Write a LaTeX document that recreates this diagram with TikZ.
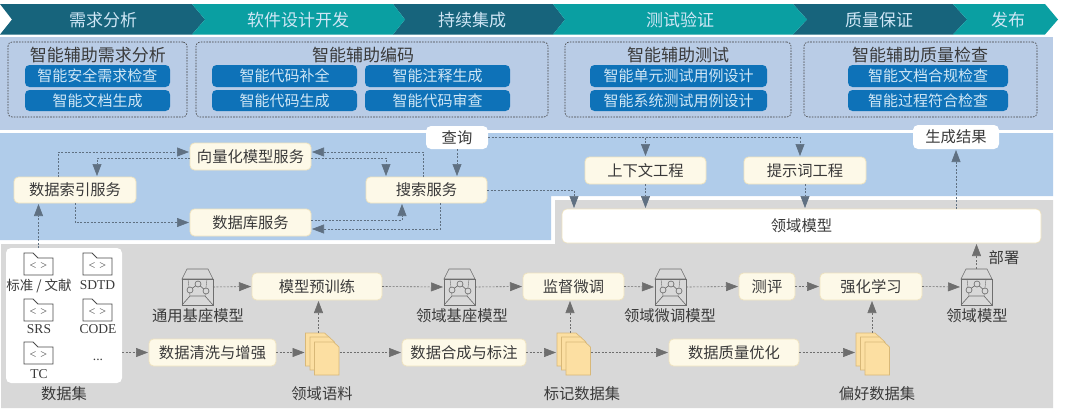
\documentclass[tikz,border=0pt]{standalone}
\usepackage{fontspec}
\setmainfont{Noto Sans CJK SC}
\newfontfamily\latinf{Liberation Serif}
\usetikzlibrary{arrows.meta,calc}
\definecolor{chevdark}{HTML}{17647C}
\definecolor{chevteal}{HTML}{0A9FA2}
\definecolor{panelone}{HTML}{B9CCE6}
\definecolor{paneltwo}{HTML}{B0CCEA}
\definecolor{panelgrey}{HTML}{D8D8D8}
\definecolor{pillblue}{HTML}{0E72B8}
\definecolor{pilltext}{HTML}{CFE6F5}
\definecolor{boxfill}{HTML}{FDF9E8}
\definecolor{boxedge}{HTML}{EFE3BF}
\definecolor{inktext}{HTML}{3A3A3A}
\definecolor{connblue}{HTML}{5F7082}
\definecolor{conngrey}{HTML}{6E6E6E}
\definecolor{sheetfill}{HTML}{FCDFA2}
\definecolor{sheetedge}{HTML}{D8B878}
\definecolor{iconline}{HTML}{6E6E6E}
\tikzset{
  x=1pt,y=-1pt,
  every node/.style={inner sep=0pt,outer sep=0pt,text=inktext},
  chevlabel/.style={font=\fontsize{17}{18}\selectfont,text=pilltext},
  grouplabel/.style={font=\fontsize{17}{18}\selectfont},
  groupbox/.style={draw=black!75,dash pattern=on 1.6pt off 1.2pt,line width=0.6pt,rounded corners=4pt},
  pill/.style={fill=pillblue,rounded corners=4.5pt,text=pilltext,font=\fontsize{15}{16}\selectfont},
  svcbox/.style={fill=boxfill,draw=boxedge,line width=0.8pt,rounded corners=4.5pt,font=\fontsize{15.3}{16}\selectfont},
  whitebox/.style={fill=white,rounded corners=5pt,font=\fontsize{15.3}{16}\selectfont},
  plainlabel/.style={font=\fontsize{15.3}{16}\selectfont},
  latinlabel/.style={font=\fontsize{13.5}{14}\latinf},
  iconbase/.style={draw=none,fill=none},
  connb/.style={draw=connblue,dash pattern=on 2pt off 1.5pt,line width=0.6pt,-{Triangle[length=12pt,width=9pt,fill=connblue]},shorten >=1pt},
  conng/.style={draw=conngrey,dash pattern=on 2pt off 1.5pt,line width=0.6pt,-{Triangle[length=12pt,width=9pt,fill=conngrey]},shorten >=1pt},
  iconstroke/.style={draw=iconline,line width=0.65pt},
  sheet/.style={fill=sheetfill,draw=sheetedge,line width=0.7pt},
  folderstroke/.style={draw=black!70,line width=0.85pt,fill=white},
}
% box from corners: name, x0, y0, x1, y1, style, text
\newcommand{\bx}[7]{\node[#6,minimum width={(#4-#2)*1pt},minimum height={(#5-#3)*1pt}] (#1) at ({(#2+#4)/2},{(#3+#5)/2}) {#7};}
\newcommand{\chev}[5]{\fill[#5] (#1,4) -- (#2,4) -- (#3,19.5) -- (#2,34.5) -- (#1,34.5) -- (#4,19.5) -- cycle;}
% cube icon: name, left x
\newcommand{\cubeicon}[2]{%
  \node[iconbase,minimum width=31pt,minimum height=37pt] (#1) at ({#2+15.5},287) {};
  \begin{scope}[shift={(#2,269)}]
    \draw[iconstroke] (0,10) -- (5,0) -- (26,0) -- (31,10) -- cycle;
    \draw[iconstroke] (0,10) rectangle (31,36);
    \draw[iconstroke] (0,36) -- (8,27) -- (23,27) -- (31,36);
    \draw[iconstroke,line width=0.4pt] (6,10) -- (8,27) (25,10) -- (23,27);
    \draw[iconstroke] (8,21) -- (16,15) -- (24,22);
    \draw[iconstroke,fill=panelgrey] (8,21) circle (3) (16,15) circle (3) (24,22) circle (3);
  \end{scope}}
% sheet stack: name, left x
\newcommand{\sheetstack}[2]{%
  \node[iconbase,minimum width=34pt,minimum height=40pt] (#1) at ({#2+17},352.5) {};
  \foreach \dx/\dy in {0/0,4.5/4,9/9}{
    \draw[sheet,shift={({#2+\dx},{333+\dy})}] (0,0) -- (19,0) -- (24.5,5) -- (24.5,33) -- (0,33) -- cycle;
  }}
% folder: name, left x, top y
\newcommand{\foldericon}[3]{%
  \node[iconbase,minimum width=29pt,minimum height=22pt] (#1) at ({#2+14.5},{#3+11}) {};
  \draw[folderstroke,shift={(#2,#3)}] (0,0) -- (9,0) -- (14,5) -- (29,5) -- (29,22) -- (0,22) -- cycle;
  \node[font=\fontsize{12}{12}\latinf,text=black!70] (#1t) at ({#2+14.5},{#3+13.5}) {<\,\,>};}
\begin{document}
\begin{tikzpicture}
\useasboundingbox (0,0) rectangle (1080,413);
\fill[white] (0,0) rectangle (1080,413);
% panels
\fill[panelone] (0,37) rectangle (1053,129.5);
\fill[paneltwo] (0,133) -- (1053,133) -- (1053,196) -- (551,196) -- (551,240) -- (0,240) -- cycle;
\fill[panelgrey] (555,200) -- (1053,200) -- (1053,408) -- (1,408) -- (1,244) -- (555,244) -- cycle;
% chevrons
\chev{393}{553}{565}{405}{chevdark}
\chev{793}{953}{967}{807}{chevdark}
\chev{0}{192}{205}{12}{chevdark}
\chev{192}{393}{405}{205}{chevteal}
\chev{553}{793}{807}{565}{chevteal}
\chev{953}{1045}{1058}{967}{chevteal}
\node[chevlabel] (t1) at (103,20) {需求分析};
\node[chevlabel] (t2) at (298,20) {软件设计开发};
\node[chevlabel] (t3) at (472,20) {持续集成};
\node[chevlabel] (t4) at (680,20) {测试验证};
\node[chevlabel] (t5) at (879,20) {质量保证};
\node[chevlabel] (t6) at (1008,20) {发布};
% groups
\bx{g1}{8}{42}{187}{117}{groupbox}{}
\bx{g2}{196}{42}{548}{117}{groupbox}{}
\bx{g3}{565}{42}{791}{117}{groupbox}{}
\bx{g4}{804}{42}{1037}{117}{groupbox}{}
\node[grouplabel] (gt1) at (98,55) {智能辅助需求分析};
\node[grouplabel] (gt2) at (363,55) {智能辅助编码};
\node[grouplabel] (gt3) at (678,55) {智能辅助测试};
\node[grouplabel] (gt4) at (920,55) {智能辅助质量检查};
\bx{p1}{25}{65}{170}{87}{pill}{智能安全需求检查}
\bx{p2}{25}{90}{170}{111}{pill}{智能文档生成}
\bx{p3}{212}{65}{357}{87}{pill}{智能代码补全}
\bx{p4}{212}{90}{357}{111}{pill}{智能代码生成}
\bx{p5}{365}{65}{510}{87}{pill}{智能注释生成}
\bx{p6}{365}{90}{510}{111}{pill}{智能代码审查}
\bx{p7}{590}{65}{767}{87}{pill}{智能单元测试用例设计}
\bx{p8}{590}{90}{767}{111}{pill}{智能系统测试用例设计}
\bx{p9}{848}{65}{1008}{87}{pill}{智能文档合规检查}
\bx{p10}{848}{90}{1008}{111}{pill}{智能过程符合检查}
% services
\bx{vec}{190}{143}{311}{170}{svcbox}{向量化模型服务}
\bx{idx}{14}{177}{136}{203}{svcbox}{数据索引服务}
\bx{dbs}{190}{209}{311}{236}{svcbox}{数据库服务}
\bx{sch}{366}{177}{487}{203}{svcbox}{搜索服务}
\bx{qry}{426}{126}{488}{149}{whitebox}{查询}
\bx{ctx}{585}{157}{706}{184}{svcbox}{上下文工程}
\bx{ptn}{744}{157}{866}{184}{svcbox}{提示词工程}
\bx{res}{913}{125}{999}{149}{whitebox}{生成结果}
\bx{dom}{562}{209}{1041}{243}{whitebox,draw=boxedge,line width=0.6pt}{领域模型}
% dataset
\bx{ds}{6}{248}{122}{383}{whitebox}{}
\foldericon{f1}{24}{253}
\foldericon{f2}{83}{253}
\foldericon{f3}{24}{299}
\foldericon{f4}{83}{299}
\foldericon{f5}{24}{342}
\node[font=\fontsize{13.5}{14}\selectfont] (l1) at (39,285.5) {标准 / 文献};
\node[latinlabel] (l2) at (97.5,285.5) {SDTD};
\node[latinlabel] (l3) at (39,329) {SRS};
\node[latinlabel] (l4) at (98,329) {CODE};
\node[latinlabel] (l5) at (39,374) {TC};
\node[latinlabel] (l6) at (98,360) {...};
\node[plainlabel] (dsl) at (64,394) {数据集};
% pipeline boxes
\bx{pre}{252}{273}{382}{300}{svcbox}{模型预训练}
\bx{sup}{523}{273}{624}{300}{svcbox}{监督微调}
\bx{evl}{739}{273}{795}{300}{svcbox}{测评}
\bx{rl}{820}{273}{922}{300}{svcbox}{强化学习}
\bx{wash}{149}{339}{276}{366}{svcbox}{数据清洗与增强}
\bx{syn}{402}{339}{526}{366}{svcbox}{数据合成与标注}
\bx{qual}{669}{339}{799}{366}{svcbox}{数据质量优化}
% icons
\cubeicon{cb1}{182}
\cubeicon{cb2}{444}
\cubeicon{cb3}{655}
\cubeicon{cb4}{961}
\sheetstack{st1}{305.5}
\sheetstack{st2}{557}
\sheetstack{st3}{856}
\node[plainlabel] (cl1) at (198,316) {通用基座模型};
\node[plainlabel] (cl2) at (462,316) {领域基座模型};
\node[plainlabel] (cl3) at (670,316) {领域微调模型};
\node[plainlabel] (cl4) at (977,316) {领域模型};
\node[plainlabel] (sl1) at (322,394) {领域语料};
\node[plainlabel] (sl2) at (582,394) {标记数据集};
\node[plainlabel] (sl3) at (877,394) {偏好数据集};
\node[plainlabel] (dep) at (1004,258) {部署};
% service connectors
\draw[connb] ([xshift=-17pt]idx.north) |- ([yshift=4.5pt]vec.west);
\draw[connb] ([yshift=-1.5pt]vec.west) -| ([xshift=22pt]idx.north);
\draw[connb] ([xshift=-3.5pt]sch.north) |- ([yshift=4.5pt]vec.east);
\draw[connb] ([yshift=-1.5pt]vec.east) -| ([xshift=-40.5pt]sch.north);
\draw[connb] (qry.south) -- (qry.south |- sch.north);
\draw[connb] (idx.south) |- (dbs.west);
\draw[connb] ([yshift=2.5pt]dbs.east) -| ([xshift=-24.5pt]sch.south);
\draw[connb] ([xshift=13.5pt]sch.south) |- ([yshift=-6.5pt]dbs.east);
\draw[connb] (qry.east) -| (ctx.north);
\draw[connb] (qry.east) -| ([xshift=-5pt]ptn.north);
\draw[connb] (sch.east) -| ([xshift=-227.5pt]dom.north);
\draw[connb] (ctx.south) -- (ctx.south |- dom.north);
\draw[connb] (ptn.south) -- (ptn.south |- dom.north);
\draw[connb] (res.south |- dom.north) -- (res.south);
\draw[connb] (f1.north |- ds.north) -- (f1.north |- idx.south);
% pipeline connectors
\draw[conng] (ds.east |- wash.west) -- (wash.west);
\draw[conng] (wash.east) -- (st1.west);
\draw[conng] (st1.east) -- (syn.west);
\draw[conng] (syn.east) -- (st2.west);
\draw[conng] (st2.east) -- (qual.west);
\draw[conng] (qual.east) -- (st3.west);
\draw[conng] (cb1.east) -- (pre.west);
\draw[conng] (pre.east) -- (cb2.west);
\draw[conng] (cb2.east) -- (sup.west);
\draw[conng] (sup.east) -- (cb3.west);
\draw[conng] (cb3.east) -- (evl.west);
\draw[conng] (evl.east) -- (rl.west);
\draw[conng] (rl.east) -- (cb4.west);
\draw[conng] ([xshift=-4pt]st1.north) -- ([xshift=-4pt]st1.north |- pre.south);
\draw[conng] ([xshift=-4pt]st2.north) -- ([xshift=-4pt]st2.north |- sup.south);
\draw[conng] ([xshift=-1pt]st3.north) -- ([xshift=-1pt]st3.north |- rl.south);
\draw[conng] (cb4.north) -- (cb4.north |- dom.south);
\end{tikzpicture}
\end{document}
